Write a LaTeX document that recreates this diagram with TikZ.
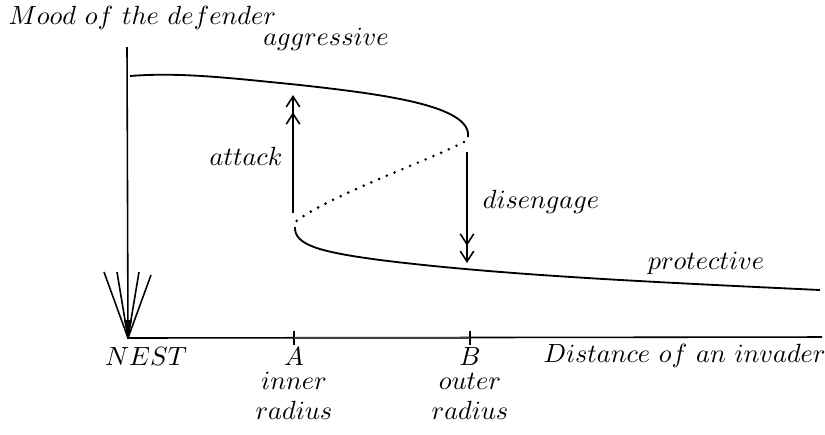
\documentclass[tikz,border=0pt]{standalone}
\usepackage{amsmath}
\usetikzlibrary{arrows.meta}
\tikzset{
  axisl/.style ={line width=0.6pt},
  curvel/.style={line width=0.7pt},
  unstab/.style={line width=1.1pt, dash pattern=on 0pt off 3.2pt, line cap=round},
  jump/.style  ={-{Straight Barb[length=1.4mm,width=1.8mm,sep=0.6mm] Straight Barb[length=1.4mm,width=1.8mm]}, line width=0.6pt},
  lab/.style   ={inner sep=0pt},
}

\begin{document}
\begin{tikzpicture}[x=0.38pt, y=-0.38pt]
  \useasboundingbox (0,0) rectangle (825,434);
  % axes
  \coordinate (O) at (128,338);
  \coordinate (ytop) at (127,47);
  \coordinate (xend) at (822,337);
  \draw[axisl] (ytop) -- (O) -- (xend);
  \foreach \fx/\fy [count=\i] in {104/272, 117/272, 139/272, 151/275}
    \draw[axisl] (\fx,\fy) coordinate (f\i) -- (O);
  \fill (O) -- (124,320) -- (132,320) -- cycle;
  \coordinate (tA) at (294,338); \coordinate (tB) at (470,338);
  \draw[axisl] ([yshift=-2.5]tA) -- ([yshift=2.5]tA);
  \draw[axisl] ([yshift=-2.5]tB) -- ([yshift=2.5]tB);
  \draw[line width=1pt, black!75] (tA) -- (tB);
  % mood curve
  \draw[curvel] (130,76) .. controls (180,72) and (230,78) .. (300,85)
                .. controls (380,94) and (472,105) .. (468,137) coordinate (upend);
  \draw[unstab] (464,142) .. controls (430,160) and (330,195) .. (295,222);
  \draw[curvel] (295,227) coordinate (lowstart) .. controls (294,245) and (320,252) .. (380,260)
                .. controls (500,275) and (650,282) .. (820,290);
  % jumps
  \coordinate (a0) at (293,213); \coordinate (a1) at (293,95);
  \coordinate (d0) at (467,152); \coordinate (d1) at (467,263);
  \draw[jump] (a0) -- (a1);
  \draw[jump] (d0) -- (d1);
  % labels
  \node[lab, anchor=west] (ylab) at (8,18) {$Mood\ of\ the\ defender$};
  \node[lab] (aggr) at (326,39) {$aggressive$};
  \node[lab] (att) at (246,156) {$attack$};
  \node[lab] (dis) at (541,202) {$disengage$};
  \node[lab] (prot) at (706,263) {$protective$};
  \node[lab] (nest) at (146,356) {$NEST$};
  \node[lab] (A) at (294,356) {$A$};
  \node[lab] (inA) at (294,381) {$inner$};
  \node[lab] (radA) at (294,410) {$radius$};
  \node[lab] (B) at (470,356) {$B$};
  \node[lab] (outB) at (470,381) {$outer$};
  \node[lab] (radB) at (470,410) {$radius$};
  \node[lab, anchor=west] (xlab) at (543,356) {$Distance\ of\ an\ invader$};
\end{tikzpicture}
\end{document}
